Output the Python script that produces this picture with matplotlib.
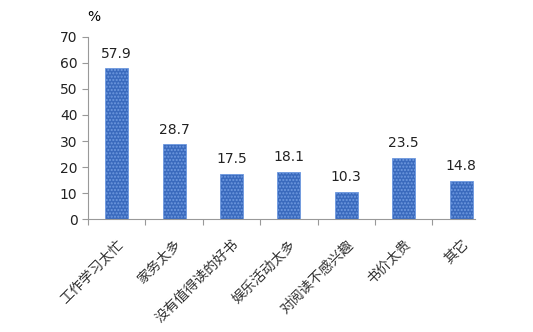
import numpy as np
import matplotlib.pyplot as plt

plt.rcParams['font.family'] = ['Noto Sans CJK SC', 'DejaVu Sans']
plt.rcParams['hatch.color'] = '#5a88d4'

categories = ['工作学习太忙', '家务太多', '没有值得读的好书', '娱乐活动太多',
              '对阅读不感兴趣', '书价太贵', '其它']
values = [57.9, 28.7, 17.5, 18.1, 10.3, 23.5, 14.8]

fig = plt.figure(figsize=(5.33, 3.32), dpi=100)
ax = fig.add_axes([0.165, 0.34, 0.726, 0.549])

x = np.arange(len(categories))
ax.bar(x, values, width=0.4, color='#3a6abd', edgecolor='#6f9ae0', linewidth=0.6,
       hatch='.....', zorder=2)

for xi, v in zip(x, values):
    ax.text(xi, v + 3, f'{v:.1f}', ha='center', va='bottom', fontsize=10, color='#222222',
            family='DejaVu Sans')

ax.set_xlim(-0.5, 6.24)
ax.set_ylim(0, 70)
ax.set_yticks(np.arange(0, 71, 10))
ax.set_xticks(x - 0.5, minor=False)
ax.set_xticklabels([])
ax.set_xticks(x, minor=True)
ax.set_xticklabels(categories, minor=True, rotation=45, ha='right', rotation_mode='anchor',
                   fontsize=10, color='#333333')
ax.tick_params(axis='x', which='minor', length=0, pad=13)
ax.tick_params(axis='x', which='major', length=4, direction='out', color='#999999')
ax.tick_params(axis='y', length=4, color='#999999', labelsize=10, labelcolor='#222222')
for t in ax.get_yticklabels():
    t.set_family('DejaVu Sans')

for s in ['top', 'right']:
    ax.spines[s].set_visible(False)
ax.spines['left'].set_color('#999999')
ax.spines['bottom'].set_color('#999999')
ax.spines['bottom'].set_linestyle((0, (1, 1)))

ax.text(0.015, 1.07, '%', transform=ax.transAxes, fontsize=10, ha='center', va='bottom',
        family='DejaVu Sans')

fig.savefig('out.png', dpi=100)
